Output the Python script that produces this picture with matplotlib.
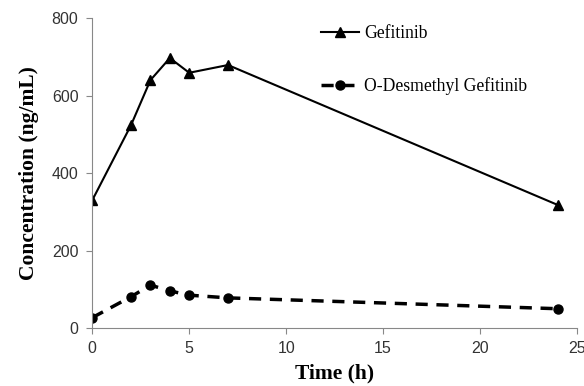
import matplotlib
matplotlib.use("Agg")
import matplotlib.pyplot as plt

# time points (h)
time_h = [0, 2, 3, 4, 5, 7, 24]
# concentrations (ng/mL)
gefitinib = [330, 524, 640, 697, 659, 679, 318]
desmethyl = [27, 81, 111, 96, 85, 78, 50]

plt.rcParams['font.family'] = ['Liberation Serif', 'DejaVu Serif']

fig = plt.figure(figsize=(5.84, 3.86), dpi=100)
ax = fig.add_axes([0.158, 0.150, 0.830, 0.803])

ax.plot(time_h, gefitinib, color="black", linewidth=1.5, marker="^",
        markersize=7, label="Gefitinib")
ax.plot(time_h, desmethyl, color="black", linewidth=2.5, linestyle=(0, (3.5, 2.5)),
        marker="o", markersize=6.5, label="O-Desmethyl Gefitinib")

ax.set_xlim(0, 25)
ax.set_ylim(0, 800)
ax.set_xticks([0, 5, 10, 15, 20, 25])
ax.set_yticks([0, 200, 400, 600, 800])
ax.tick_params(labelsize=11.5, color="#888888", labelcolor="#333333",
               length=4, width=0.8)
ax.tick_params(axis="x", pad=5)
ax.tick_params(axis="y", pad=6)
for lbl in ax.get_xticklabels() + ax.get_yticklabels():
    lbl.set_family("Liberation Sans")

for side in ("top", "right"):
    ax.spines[side].set_visible(False)
for side in ("left", "bottom"):
    ax.spines[side].set_color("#888888")
    ax.spines[side].set_linewidth(0.8)

ax.set_xlabel("Time (h)", fontsize=15.5, fontweight="bold", labelpad=6)
ax.set_ylabel("Concentration (ng/mL)", fontsize=15.5, fontweight="bold", labelpad=9)

ax.legend(loc="upper left", bbox_to_anchor=(0.44, 1.03), frameon=False,
          fontsize=12.7, labelspacing=2.0, handlelength=2.15, handletextpad=0.25)

fig.savefig("out.png", dpi=100)
